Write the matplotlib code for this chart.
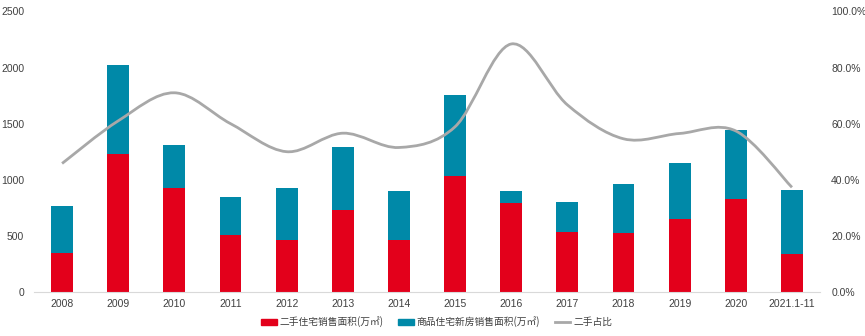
import matplotlib.pyplot as plt
import numpy as np
from matplotlib.path import Path
from matplotlib.patches import PathPatch, Patch
from matplotlib.lines import Line2D
from matplotlib.ticker import PercentFormatter

plt.rcParams['font.family'] = ['Liberation Sans', 'Noto Sans CJK SC', 'DejaVu Sans']

years = ['2008', '2009', '2010', '2011', '2012', '2013', '2014',
         '2015', '2016', '2017', '2018', '2019', '2020', '2021.1-11']
second_hand = [350, 1228, 928, 507, 463, 730, 463, 1032, 795, 534, 525, 649, 827, 338]
new_homes = [415, 792, 380, 338, 462, 560, 436, 721, 104, 267, 436, 499, 614, 569]
share = [45.8, 61.0, 71.0, 60.0, 50.0, 56.6, 51.5, 58.9, 88.4, 66.7, 54.6, 56.5, 57.4, 37.3]

red = '#e3001b'
teal = '#0089a8'
grey = '#a8a8a8'
txt = '#404040'


def smooth_path(x, y):
    # cubic bezier through every point, Excel-style smoothing
    pts = np.column_stack([x, y]).astype(float)
    n = len(pts)
    verts = [pts[0]]
    codes = [Path.MOVETO]
    for i in range(n - 1):
        p0 = pts[i - 1] if i > 0 else pts[i]
        p1 = pts[i]
        p2 = pts[i + 1]
        p3 = pts[i + 2] if i + 2 < n else pts[i + 1]
        c1 = p1 + (p2 - p0) / 6
        c2 = p2 - (p3 - p1) / 6
        verts += [c1, c2, p2]
        codes += [Path.CURVE4] * 3
    return Path(verts, codes)


fig = plt.figure(figsize=(8.65, 3.36), dpi=100)
ax = fig.add_axes([0.0393, 0.131, 0.9087, 0.835])
x = np.arange(len(years))

ax.bar(x, second_hand, width=0.39, color=red, zorder=2)
ax.bar(x, new_homes, width=0.39, bottom=second_hand, color=teal, zorder=2)
ax.set_xlim(-0.5, len(years) - 0.5)
ax.set_ylim(0, 2500)
ax.set_yticks(range(0, 2501, 500))
ax.set_xticks(x)
ax.set_xticklabels(years)

ax2 = ax.twinx()
ax2.set_ylim(0, 100)
ax2.set_yticks(range(0, 101, 20))
ax2.yaxis.set_major_formatter(PercentFormatter(decimals=1))
ax2.add_patch(PathPatch(smooth_path(x, share), facecolor='none',
                        edgecolor=grey, linewidth=2, zorder=3))

for a in (ax, ax2):
    for s in a.spines.values():
        s.set_visible(False)
    a.tick_params(length=0, labelsize=7.5, colors=txt)
ax.spines['bottom'].set_visible(True)
ax.spines['bottom'].set_color('#d9d9d9')
ax.spines['bottom'].set_linewidth(0.8)
ax.tick_params(axis='y', pad=7)
ax.tick_params(axis='x', pad=5)
ax2.tick_params(axis='y', pad=8)

handles = [
    Patch(color=red, label='二手住宅销售面积(万㎡)'),
    Patch(color=teal, label='商品住宅新房销售面积(万㎡)'),
    Line2D([], [], color=grey, linewidth=2, label='二手占比'),
]
fig.legend(handles=handles, loc='lower center', bbox_to_anchor=(0.505, 0.0),
           ncol=3, frameon=False, handlelength=1.6,
           handleheight=0.6, columnspacing=1.5, handletextpad=0.3,
           labelcolor=txt, prop={'family': ['Noto Sans CJK SC', 'DejaVu Sans'], 'size': 7})

fig.savefig('out.png', dpi=100)
